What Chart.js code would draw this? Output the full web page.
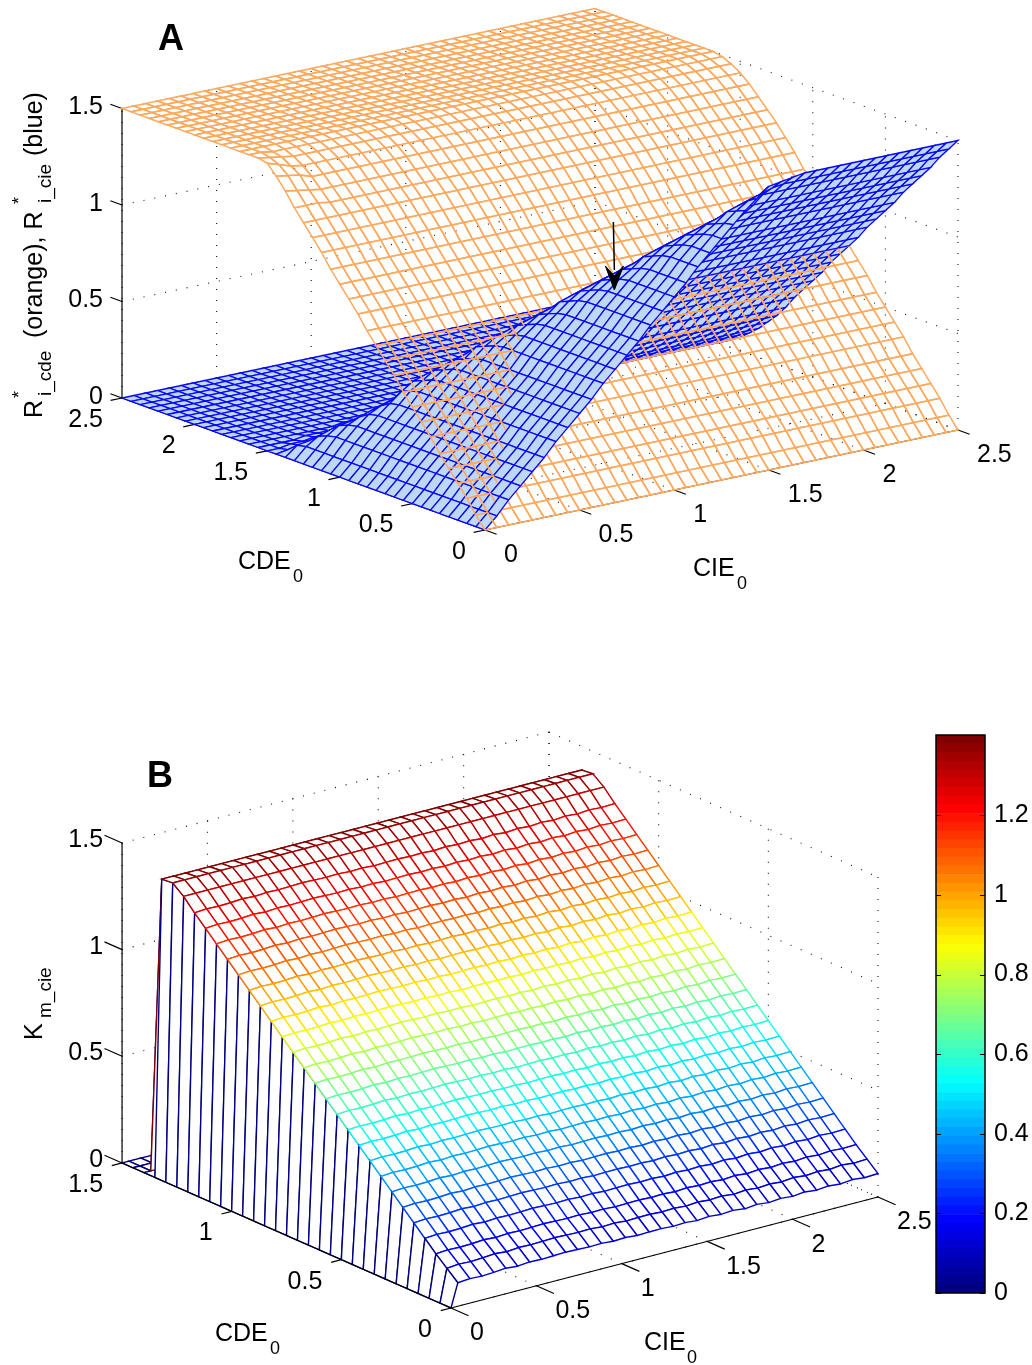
<!DOCTYPE html>
<html>
<head>
<meta charset="utf-8">
<script src="https://cdn.jsdelivr.net/npm/chart.js@4"></script>
<style>
  body { margin: 0; background: #fff; }
  canvas { position: absolute; }
  #chartA { left: 0px; top: 0px; }
  #chartB { left: 0px; top: 680px; }
  #chartBar { left: 930px; top: 711px; }
</style>
</head>
<body>
<canvas id="chartA" width="1032" height="640"></canvas>
<canvas id="chartB" width="1032" height="685"></canvas>
<canvas id="chartBar" width="102" height="606"></canvas>
<script>
// grid of panel A (CIE0 and CDE0 share it)
const gridA = [0,.0625,.125,.1875,.25,.3125,.375,.4375,.5,.5625,.625,.6875,.75,.8125,.875,.9375,1,1.0625,1.125,1.1875,1.25,1.3125,1.375,1.4375,1.5,1.5625,1.625,1.6875,1.75,1.8125,1.875,1.9375,2,2.0625,2.125,2.1875,2.25,2.3125,2.375,2.4375,2.5];

// R*i_cde in hundredths, by CDE0 (flat along CIE0)
const orangeZ = [0,6,13,19,25,31,38,44,50,56,63,69,75,81,88,94,100,106,113,119,125,130,135,140,144,147,149,150,150,150,150,150,150,150,150,150,150,150,150,150,150];
// the knee is sharper in the first CIE0 columns
const orangeEdge = { 21: [131,131,131], 22: [138,137,136], 23: [144,143,142], 24: [149,147,145], 25: [150,149,148], 26: [150,150,149] };

// R*i_cie in hundredths, rows by CDE0, columns by CIE0
const blueZ = [
[0,6,13,19,25,31,38,44,50,56,63,69,75,81,88,94,100,106,113,119,125,131,137,142,147,148,149,150,150,150,150,150,150,150,150,150,150,150,150,150,150],
[0,6,13,19,25,31,38,44,50,56,63,69,75,81,88,94,100,106,113,119,125,130,135,139,141,143,144,144,144,144,144,144,144,144,144,144,144,144,144,144,144],
[0,6,13,19,25,31,38,44,50,56,63,69,75,81,88,94,100,106,113,119,124,128,133,135,137,138,138,138,138,138,138,138,138,138,138,138,138,138,138,138,138],
[0,6,13,19,25,31,38,44,50,56,63,69,75,81,88,94,100,106,113,118,122,126,128,130,131,131,131,131,131,131,131,131,131,131,131,131,131,131,131,131,131],
[0,6,13,19,25,31,38,44,50,56,63,69,75,81,88,94,100,106,112,116,120,122,124,125,125,125,125,125,125,125,125,125,125,125,125,125,125,125,125,125,125],
[0,6,13,19,25,31,38,44,50,56,63,69,75,81,88,94,100,105,110,114,116,118,119,119,119,119,119,119,119,119,119,119,119,119,119,119,119,119,119,119,119],
[0,6,13,19,25,31,38,44,50,56,63,69,75,81,88,94,99,103,108,110,112,113,113,113,113,113,113,113,113,113,113,113,113,113,113,113,113,113,113,113,113],
[0,6,13,19,25,31,38,44,50,56,63,69,75,81,88,93,97,101,103,105,106,106,106,106,106,106,106,106,106,106,106,106,106,106,106,106,106,106,106,106,106],
[0,6,13,19,25,31,38,44,50,56,63,69,75,81,87,91,95,97,99,100,100,100,100,100,100,100,100,100,100,100,100,100,100,100,100,100,100,100,100,100,100],
[0,6,13,19,25,31,38,44,50,56,63,69,75,80,85,89,91,93,94,94,94,94,94,94,94,94,94,94,94,94,94,94,94,94,94,94,94,94,94,94,94],
[0,6,13,19,25,31,38,44,50,56,63,69,74,78,83,85,87,88,88,88,88,88,88,88,88,88,88,88,88,88,88,88,88,88,88,88,88,88,88,88,88],
[0,6,13,19,25,31,38,44,50,56,63,68,72,76,78,80,81,81,81,81,81,81,81,81,81,81,81,81,81,81,81,81,81,81,81,81,81,81,81,81,81],
[0,6,13,19,25,31,38,44,50,56,62,66,70,72,74,75,75,75,75,75,75,75,75,75,75,75,75,75,75,75,75,75,75,75,75,75,75,75,75,75,75],
[0,6,13,19,25,31,38,44,50,55,60,64,66,68,69,69,69,69,69,69,69,69,69,69,69,69,69,69,69,69,69,69,69,69,69,69,69,69,69,69,69],
[0,6,13,19,25,31,38,44,49,53,58,60,62,63,63,63,63,63,63,63,63,63,63,63,63,63,63,63,63,63,63,63,63,63,63,63,63,63,63,63,63],
[0,6,13,19,25,31,38,43,47,51,53,55,56,56,56,56,56,56,56,56,56,56,56,56,56,56,56,56,56,56,56,56,56,56,56,56,56,56,56,56,56],
[0,6,13,19,25,31,37,41,45,47,49,50,50,50,50,50,50,50,50,50,50,50,50,50,50,50,50,50,50,50,50,50,50,50,50,50,50,50,50,50,50],
[0,6,13,19,25,30,35,39,41,43,44,44,44,44,44,44,44,44,44,44,44,44,44,44,44,44,44,44,44,44,44,44,44,44,44,44,44,44,44,44,44],
[0,6,13,19,24,27,29,31,33,34,35,36,37,38,38,38,38,38,38,38,38,38,38,38,38,38,38,38,38,38,38,38,38,38,38,38,38,38,38,38,38],
[0,6,13,18,21,23,25,26,27,28,29,30,31,31,31,31,31,31,31,31,31,31,31,31,31,31,31,31,31,31,31,31,31,31,31,31,31,31,31,31,31],
[0,6,12,16,17,18,19,20,21,22,23,24,25,25,25,25,25,25,25,25,25,25,25,25,25,25,25,25,25,25,25,25,25,25,25,25,25,25,25,25,25],
[0,6,10,12,13,14,15,16,17,18,19,20,20,20,20,20,20,20,20,20,20,20,20,20,20,20,20,20,20,20,20,20,20,20,20,20,20,20,20,20,20],
[0,5,6,7,8,9,10,11,12,13,14,15,15,15,15,15,15,15,15,15,15,15,15,15,15,15,15,15,15,15,15,15,15,15,15,15,15,15,15,15,15],
[0,1,2,3,4,5,6,7,8,9,10,11,11,11,11,11,11,11,11,11,11,11,11,11,11,11,11,11,11,11,11,11,11,11,11,11,11,11,11,11,11],
[0,0,1,1,2,2,3,3,4,4,5,5,6,6,7,7,7,7,7,7,7,7,7,7,7,7,7,7,7,7,7,7,7,7,7,7,7,7,7,7,7],
[0,0,0,0,1,1,1,1,2,2,2,2,3,3,3,3,4,4,4,4,4,4,4,4,4,4,4,4,4,4,4,4,4,4,4,4,4,4,4,4,4],
[0,0,0,0,0,0,0,0,1,1,1,1,1,1,1,1,2,2,2,2,2,2,2,2,2,2,2,2,2,2,2,2,2,2,2,2,2,2,2,2,2],
[0,0,0,0,0,0,0,0,0,0,0,0,0,0,0,0,1,1,1,1,1,1,1,1,1,1,1,1,1,1,1,1,1,1,1,1,1,1,1,1,1],
[0,0,0,0,0,0,0,0,0,0,0,0,0,0,0,0,0,0,0,0,0,0,0,0,0,0,0,0,0,0,0,0,0,0,0,0,0,0,0,0,0],
[0,0,0,0,0,0,0,0,0,0,0,0,0,0,0,0,0,0,0,0,0,0,0,0,0,0,0,0,0,0,0,0,0,0,0,0,0,0,0,0,0],
[0,0,0,0,0,0,0,0,0,0,0,0,0,0,0,0,0,0,0,0,0,0,0,0,0,0,0,0,0,0,0,0,0,0,0,0,0,0,0,0,0],
[0,0,0,0,0,0,0,0,0,0,0,0,0,0,0,0,0,0,0,0,0,0,0,0,0,0,0,0,0,0,0,0,0,0,0,0,0,0,0,0,0],
[0,0,0,0,0,0,0,0,0,0,0,0,0,0,0,0,0,0,0,0,0,0,0,0,0,0,0,0,0,0,0,0,0,0,0,0,0,0,0,0,0],
[0,0,0,0,0,0,0,0,0,0,0,0,0,0,0,0,0,0,0,0,0,0,0,0,0,0,0,0,0,0,0,0,0,0,0,0,0,0,0,0,0],
[0,0,0,0,0,0,0,0,0,0,0,0,0,0,0,0,0,0,0,0,0,0,0,0,0,0,0,0,0,0,0,0,0,0,0,0,0,0,0,0,0],
[0,0,0,0,0,0,0,0,0,0,0,0,0,0,0,0,0,0,0,0,0,0,0,0,0,0,0,0,0,0,0,0,0,0,0,0,0,0,0,0,0],
[0,0,0,0,0,0,0,0,0,0,0,0,0,0,0,0,0,0,0,0,0,0,0,0,0,0,0,0,0,0,0,0,0,0,0,0,0,0,0,0,0],
[0,0,0,0,0,0,0,0,0,0,0,0,0,0,0,0,0,0,0,0,0,0,0,0,0,0,0,0,0,0,0,0,0,0,0,0,0,0,0,0,0],
[0,0,0,0,0,0,0,0,0,0,0,0,0,0,0,0,0,0,0,0,0,0,0,0,0,0,0,0,0,0,0,0,0,0,0,0,0,0,0,0,0],
[0,0,0,0,0,0,0,0,0,0,0,0,0,0,0,0,0,0,0,0,0,0,0,0,0,0,0,0,0,0,0,0,0,0,0,0,0,0,0,0,0],
[0,0,0,0,0,0,0,0,0,0,0,0,0,0,0,0,0,0,0,0,0,0,0,0,0,0,0,0,0,0,0,0,0,0,0,0,0,0,0,0,0]
];

// panel B grid and Km_cie readings
const cieGridB = [0,.04,.11,.18,.25,.32,.39,.46,.53,.6,.67,.74,.81,.88,.95,1.02,1.09,1.16,1.23,1.3,1.37,1.44,1.51,1.58,1.65,1.72,1.79,1.86,1.93,2,2.07,2.14,2.21,2.28,2.35,2.42,2.5];
const cdeGridB = [0,.05,.1,.15,.2,.25,.3,.35,.4,.45,.5,.55,.6,.65,.7,.75,.8,.85,.9,.95,1,1.05,1.1,1.15,1.2,1.25,1.3,1.35,1.4,1.45,1.5];
const kmByCde = [.11,.155,.2,.25,.3,.35,.4,.45,.5,.55,.6,.65,.7,.75,.8,.85,.9,.95,1,1.05,1.1,1.15,1.2,1.25,1.3,1.355,1.395,1.39,0,0,0];
// small wobble along CIE0: a bit stronger on the front rows, none on the top rows
const kmRipple = [0,0,.004,.002,.004,.008,.004,.008,.006,.008,.01,.008,.006,.008,.004,.006,.002,.004,.005,.002,.004,0,.004,0,.003,-.002,.003,-.003,.002,-.003,.002,-.003,.002,-.003,.002,-.002,0];
const kmRippleFront = [0,0,.005,.002,.005,.01,.005,.01,.008,.01,.012,.01,.008,.01,.005,.008,.003,.005,.006,.002,.005,0,.005,0,.004,-.003,.003,-.003,.002,-.003,.003,-.003,.002,-.003,.003,-.003,0];

// axis ticks
const ticksA = { cie: [0,.5,1,1.5,2,2.5], cde: [0,.5,1,1.5,2,2.5], z: [0,.5,1,1.5] };
const ticksB = { cie: [0,.5,1,1.5,2,2.5], cde: [0,.5,1,1.5], z: [0,.5,1,1.5] };
const colorbarTicks = [0,.2,.4,.6,.8,1,1.2];
const colorbarMax = 1.402;
const arrowTip = { cie: 1.29, cde: .79, z: .76 };

const FONT = '"Liberation Sans", Arial, sans-serif';

// fixed camera of each panel, pixels per data unit
const viewA = { ox:485, oy:530, xi:189.2, xc:-145.2, ui:40, uc:52.8, uz:193, di:-139.4, dc:-181.6, dz:56, iMax:2.5, cMax:2.5, zMax:1.5 };
const viewB = { ox:451, oy:1308, xi:170.8, xc:-219.3, ui:44.4, uc:96.7, uz:213.3, di:-126.7, dc:-274, dz:59.6, iMax:2.5, cMax:1.5, zMax:1.5 };

function proj(v, i, c, z) {
  return { x: v.ox + v.xi * i + v.xc * c, y: v.oy - v.ui * i - v.uc * c - v.uz * z };
}
function depth(v, i, c, z) {
  return v.di * i + v.dc * c + v.dz * z;
}

function jet(t) {
  const f = (d) => Math.round(255 * Math.max(0, Math.min(1, 1.5 - Math.abs(4 * t - d))));
  return `rgb(${f(3)},${f(2)},${f(1)})`;
}
function jetLevel(z) {
  return jet(Math.min(63, Math.floor(z / colorbarMax * 64)) / 63);
}

function lineSet(points, color, width, dash) {
  return {
    data: points, showLine: true, fill: false, pointRadius: 0, tension: 0,
    borderColor: color, borderWidth: width, borderDash: dash || [], borderCapStyle: 'butt',
  };
}

// one dataset per mesh cell, so cells can be painted back to front
function meshCells(v, cie, cde, zAt, style) {
  const cells = [];
  for (let j = 0; j < cde.length - 1; j++) {
    for (let k = 0; k < cie.length - 1; k++) {
      const z00 = zAt(k, j), z10 = zAt(k + 1, j), z11 = zAt(k + 1, j + 1), z01 = zAt(k, j + 1);
      const pts = [
        proj(v, cie[k], cde[j], z00), proj(v, cie[k + 1], cde[j], z10),
        proj(v, cie[k + 1], cde[j + 1], z11), proj(v, cie[k], cde[j + 1], z01),
        proj(v, cie[k], cde[j], z00),
      ];
      const s = style(z00);
      cells.push({
        d: depth(v, (cie[k] + cie[k + 1]) / 2, (cde[j] + cde[j + 1]) / 2, (z00 + z10 + z11 + z01) / 4),
        set: {
          data: pts, showLine: true, pointRadius: 0, tension: 0,
          fill: s.fill ? 'shape' : false, backgroundColor: s.fill || 'transparent',
          borderColor: s.color, borderWidth: s.width, borderJoinStyle: 'miter',
        },
      });
    }
  }
  return cells;
}

function boxGrid(v, t) {
  const sets = [];
  const dot = (a, b) => sets.push(lineSet([proj(v, ...a), proj(v, ...b)], '#111', 1.1, [1, 10]));
  t.cie.forEach((q) => { dot([q, 0, 0], [q, v.cMax, 0]); dot([q, v.cMax, 0], [q, v.cMax, v.zMax]); });
  t.cde.forEach((q) => { dot([0, q, 0], [v.iMax, q, 0]); dot([v.iMax, q, 0], [v.iMax, q, v.zMax]); });
  t.z.forEach((q) => { dot([0, v.cMax, q], [v.iMax, v.cMax, q]); dot([v.iMax, v.cMax, q], [v.iMax, 0, q]); });
  return sets;
}

function boxAxes(v, t) {
  const sets = [];
  const solid = (a, b) => sets.push(lineSet([proj(v, ...a), proj(v, ...b)], '#000', 1.2));
  solid([0, v.cMax, 0], [0, v.cMax, v.zMax]);
  solid([0, 0, 0], [0, v.cMax, 0]);
  solid([0, 0, 0], [v.iMax, 0, 0]);
  t.z.forEach((q) => solid([0, v.cMax, q], [0, v.cMax + .08, q]));
  t.cde.forEach((q) => solid([0, q, 0], [-.06, q, 0]));
  t.cie.forEach((q) => solid([q, 0, 0], [q, -.08, 0]));
  return sets;
}

function tickText(v, t, off) {
  const out = [];
  t.z.forEach((q) => { const p = proj(v, 0, v.cMax, q); out.push({ s: String(q), x: p.x - 19, y: p.y + off.z, align: 'right' }); });
  t.cde.forEach((q) => { const p = proj(v, 0, q, 0); out.push({ s: String(q), x: p.x - 19, y: p.y + 20, align: 'right' }); });
  t.cie.forEach((q) => { const p = proj(v, q, 0, 0); out.push({ s: String(q), x: p.x + 19, y: p.y + 23.5, align: 'left' }); });
  return out;
}

const textPlugin = {
  id: 'panelText',
  afterDatasetsDraw(chart, args, opts) {
    const { ctx } = chart;
    const top = chart.scales.y.min;
    opts.items.forEach((t) => {
      ctx.save();
      ctx.fillStyle = '#000';
      ctx.font = t.font || `25px ${FONT}`;
      ctx.textAlign = t.align || 'left';
      ctx.textBaseline = t.rot ? 'alphabetic' : 'middle';
      ctx.translate(t.x, t.y - top + (t.rot ? 0 : 2));
      if (t.rot) ctx.rotate(-Math.PI / 2);
      ctx.fillText(t.s, 0, 0);
      ctx.restore();
    });
  },
};

function panel(id, top, height, datasets, items) {
  return new Chart(document.getElementById(id), {
    type: 'scatter',
    data: { datasets },
    options: {
      responsive: false, animation: false, events: [], parsing: false, normalized: true,
      layout: { padding: 0 },
      scales: {
        x: { type: 'linear', display: false, min: 0, max: 1032 },
        y: { type: 'linear', display: false, min: top, max: top + height, reverse: true },
      },
      plugins: { legend: { display: false }, tooltip: { enabled: false }, panelText: { items } },
    },
    plugins: [textPlugin],
  });
}

const sub = `19px ${FONT}`;
const sub0 = `18px ${FONT}`;
const bold = `bold 36px ${FONT}`;

// panel A
const orangeAt = (k, j) => (k < 3 && orangeEdge[j] ? orangeEdge[j][k] : orangeZ[j]) / 100;
const orangeStyle = () => ({ color: '#fda95e', width: 1.5 });
const blueStyle = () => ({ color: '#0808f5', width: 1.3, fill: '#bdd7f4' });
const cellsA = [
  ...meshCells(viewA, gridA, gridA, orangeAt, orangeStyle),
  ...meshCells(viewA, gridA, gridA, (k, j) => blueZ[j][k] / 100, blueStyle),
].sort((a, b) => b.d - a.d).map((c) => c.set);

const tip = proj(viewA, arrowTip.cie, arrowTip.cde, arrowTip.z);
const arrowSets = [
  lineSet([{ x: tip.x - 1, y: tip.y - 68 }, { x: tip.x, y: tip.y - 20 }], '#000', 1.5),
  {
    data: [tip, { x: tip.x - 9, y: tip.y - 24 }, { x: tip.x, y: tip.y - 14 }, { x: tip.x + 9, y: tip.y - 24 }, tip],
    showLine: true, pointRadius: 0, tension: 0, fill: 'shape', backgroundColor: '#000', borderColor: '#000', borderWidth: 1,
  },
];

panel('chartA', 0, 640, [...arrowSets, ...cellsA, ...boxAxes(viewA, ticksA), ...boxGrid(viewA, ticksA)], [
  { s: 'A', x: 158, y: 38, font: bold },
  ...tickText(viewA, ticksA, { z: -3 }),
  { s: 'CDE', x: 238, y: 560 }, { s: '0', x: 293, y: 575, font: sub0 },
  { s: 'CIE', x: 693, y: 567 }, { s: '0', x: 737, y: 582, font: sub0 },
  { s: 'R', x: 42, y: 418, rot: true },
  { s: '*', x: 25, y: 398, rot: true, font: sub0 },
  { s: 'i_cde', x: 51, y: 396, rot: true, font: sub },
  { s: '(orange), R', x: 42, y: 338, rot: true },
  { s: '*', x: 25, y: 204, rot: true, font: sub0 },
  { s: 'i_cie', x: 51, y: 203, rot: true, font: sub },
  { s: '(blue)', x: 42, y: 156, rot: true },
]);

// panel B
const kmAt = (k, j) => {
  if (k === 0 || kmByCde[j] === 0) return 0;
  if (j > 24) return kmByCde[j];
  return kmByCde[j] + (j < 2 ? kmRippleFront[k] : kmRipple[k]);
};
const kmStyle = (z) => ({ color: jetLevel(z), width: 1.4, fill: '#fff' });
const cellsB = meshCells(viewB, cieGridB, cdeGridB, kmAt, kmStyle).sort((a, b) => b.d - a.d).map((c) => c.set);

panel('chartB', 680, 685, [...boxAxes(viewB, ticksB), ...cellsB, ...boxGrid(viewB, ticksB)], [
  { s: 'B', x: 147, y: 775, font: bold },
  ...tickText(viewB, ticksB, { z: -5 }),
  { s: 'CDE', x: 215, y: 1332 }, { s: '0', x: 270, y: 1347, font: sub0 },
  { s: 'CIE', x: 644, y: 1341 }, { s: '0', x: 687, y: 1356, font: sub0 },
  { s: 'K', x: 42, y: 1040, rot: true },
  { s: 'm_cie', x: 51, y: 1018, rot: true, font: sub },
]);

// colorbar: 64 floating bars on a real value axis
const barSets = [];
for (let n = 0; n < 64; n++) {
  barSets.push({
    data: [[n * colorbarMax / 64, (n + 1) * colorbarMax / 64]],
    backgroundColor: jet(n / 63), borderWidth: 0, barPercentage: 1, categoryPercentage: 1,
  });
}
const frame = {
  id: 'frame',
  afterDatasetsDraw(chart) {
    const { ctx, chartArea: a, scales: { y } } = chart;
    ctx.save();
    ctx.strokeStyle = '#000';
    ctx.lineWidth = 1.5;
    ctx.strokeRect(a.left, a.top, a.right - a.left, a.bottom - a.top);
    ctx.lineWidth = 1;
    colorbarTicks.forEach((q) => {
      const py = Math.round(y.getPixelForValue(q)) + .5;
      ctx.beginPath();
      ctx.moveTo(a.left, py); ctx.lineTo(a.left + 5, py);
      ctx.moveTo(a.right - 5, py); ctx.lineTo(a.right, py);
      ctx.stroke();
    });
    ctx.restore();
  },
};
new Chart(document.getElementById('chartBar'), {
  type: 'bar',
  data: { labels: [''], datasets: barSets },
  options: {
    responsive: false, animation: false, events: [], grouped: false,
    layout: { autoPadding: false, padding: { left: 6, top: 5, bottom: 7 } },
    scales: {
      x: { display: false },
      y: {
        position: 'right', min: 0, max: colorbarMax,
        grid: { display: false, drawTicks: false }, border: { display: false },
        afterBuildTicks: (s) => { s.ticks = colorbarTicks.map((value) => ({ value })); },
        afterFit: (s) => { s.width = 47; },
        ticks: { color: '#000', padding: 9, font: { family: FONT, size: 25 }, callback: (q) => String(q) },
      },
    },
    plugins: { legend: { display: false }, tooltip: { enabled: false } },
  },
  plugins: [frame],
});
</script>
</body>
</html>
